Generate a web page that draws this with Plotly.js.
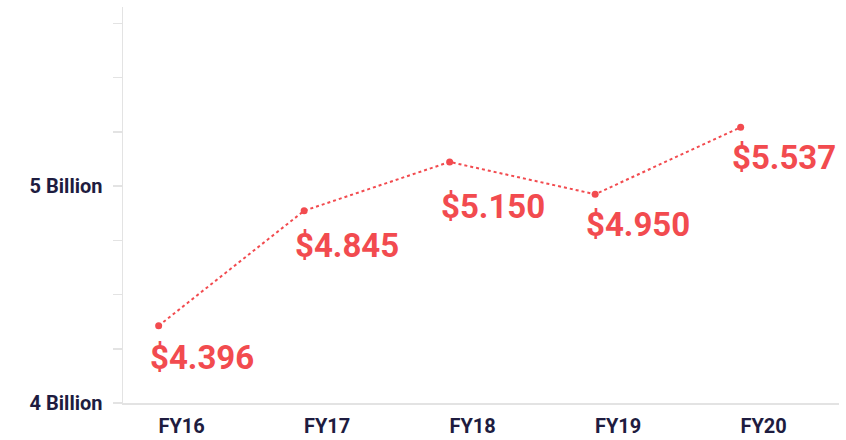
<!DOCTYPE html>
<html>
<head>
<meta charset="utf-8">
<script src="https://cdn.plot.ly/plotly-3.0.1.min.js"></script>
<style>html,body{margin:0;padding:0;background:#fff;}#chart{width:846px;height:440px;}</style>
</head>
<body>
<div id="chart"></div>
<script>
// Data
const categories = ["FY16", "FY17", "FY18", "FY19", "FY20"];
const values = [4.356, 4.886, 5.111, 4.962, 5.271];
const valueLabels = ["$4.396", "$4.845", "$5.150", "$4.950", "$5.537"];
const yTickVals = [4, 4.25, 4.5, 4.75, 5, 5.25, 5.5, 5.75];
const yTickText = ["4 Billion", "", "", "", "5 Billion", "", "", ""];

const RED = "#f24b4f";
const NAVY = "#1e1c40";
const AXIS = "#e3e3e3";
const FONT = "Roboto, 'Open Sans', sans-serif";

const labelDy = [-32, -35, -45, -30, -30];

const trace = {
  type: "scatter",
  mode: "lines+markers",
  x: categories,
  y: values,
  line: {color: RED, width: 2, dash: "dot"},
  marker: {color: RED, size: 7},
  hoverinfo: "skip",
  cliponaxis: false
};

const annotations = categories.map((c, i) => ({
  x: c,
  y: values[i],
  xref: "x",
  yref: "y",
  text: valueLabels[i],
  showarrow: false,
  xanchor: "left",
  yanchor: "middle",
  xshift: -11,
  yshift: labelDy[i],
  font: {family: FONT, size: 33, color: RED, weight: 700}
}));

const layout = {
  width: 846,
  height: 440,
  margin: {l: 123, r: 7, t: 7, b: 37},
  paper_bgcolor: "#fff",
  plot_bgcolor: "#fff",
  showlegend: false,
  xaxis: {
    type: "category",
    range: [-0.245, 4.676],
    showgrid: false,
    zeroline: false,
    showline: true,
    linecolor: AXIS,
    linewidth: 1.5,
    ticks: "",
    ticklabelshift: 23,
    ticklabelstandoff: 4,
    tickfont: {family: FONT, size: 20, color: NAVY, weight: 700},
    fixedrange: true
  },
  yaxis: {
    range: [4, 5.825],
    tickmode: "array",
    tickvals: yTickVals,
    ticktext: yTickText,
    showgrid: false,
    zeroline: false,
    showline: true,
    linecolor: AXIS,
    linewidth: 1.5,
    ticks: "outside",
    ticklen: 9,
    tickwidth: 1.5,
    tickcolor: AXIS,
    ticklabelstandoff: 6,
    tickfont: {family: FONT, size: 20, color: NAVY, weight: 700},
    fixedrange: true
  },
  annotations: annotations
};

Plotly.newPlot("chart", [trace], layout, {displayModeBar: false, staticPlot: true});
</script>
</body>
</html>
